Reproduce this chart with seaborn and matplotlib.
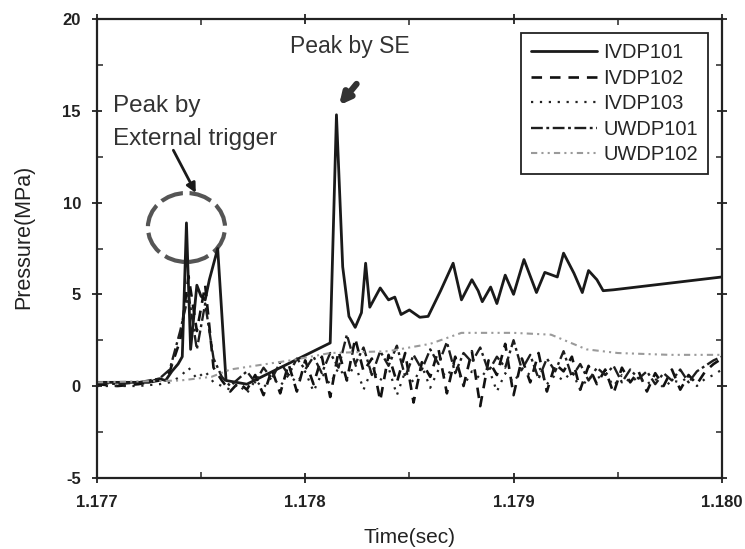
import numpy as np
import pandas as pd
import seaborn as sns
import matplotlib
matplotlib.use("Agg")
from matplotlib import pyplot as plt
from matplotlib.patches import Ellipse

# series names (legend order)
names = ["IVDP101", "IVDP102", "IVDP103", "UWDP101", "UWDP102"]

# IVDP101 - main solid trace
t_101 = [1.17700, 1.17725, 1.17730, 1.17733, 1.17736, 1.17739, 1.17741, 1.17743,
         1.17745, 1.17748, 1.17750, 1.17752, 1.17754, 1.17758, 1.17762, 1.17767,
         1.17772, 1.17812, 1.17815, 1.17818, 1.17821, 1.17824, 1.17827, 1.17829,
         1.17831, 1.17836, 1.17840, 1.17843, 1.17846, 1.17850, 1.17855, 1.17859,
         1.17865, 1.17871, 1.17875, 1.17880, 1.17883, 1.17885, 1.17889, 1.17892,
         1.17896, 1.17900, 1.17905, 1.17911, 1.17915, 1.17921, 1.17924, 1.17929,
         1.17933, 1.17936, 1.17940, 1.17943, 1.17948, 1.18000]
p_101 = [0.2, 0.2, 0.4, 0.3, 0.8, 1.2, 1.6, 8.9,
         2.0, 5.5, 4.9, 4.7, 5.8, 7.5, 0.3, 0.2,
         0.1, 2.35, 14.8, 6.5, 3.8, 3.2, 4.0, 6.7,
         4.3, 5.35, 4.7, 4.85, 3.9, 4.15, 3.75, 3.8,
         5.2, 6.7, 4.7, 5.8, 5.2, 4.6, 5.4, 4.5,
         6.05, 5.0, 6.9, 5.1, 6.2, 5.95, 7.25, 6.15,
         5.1, 6.3, 5.8, 5.2, 5.25, 5.95]

# shared sample times for the noisy low traces
t_early = [1.17700, 1.17710, 1.17720, 1.17730, 1.17735, 1.17740, 1.17744, 1.17748,
           1.17752, 1.17756]
t_noise = [1.17760, 1.17764, 1.17768, 1.17772, 1.17776, 1.17780, 1.17784, 1.17788,
           1.17792, 1.17796, 1.17800, 1.17804, 1.17808, 1.17812, 1.17816, 1.17820,
           1.17824, 1.17828, 1.17832, 1.17836, 1.17840, 1.17844, 1.17848, 1.17852,
           1.17856, 1.17860, 1.17864, 1.17868, 1.17872, 1.17876, 1.17880, 1.17884,
           1.17888, 1.17892, 1.17896, 1.17900, 1.17904, 1.17908, 1.17912, 1.17916,
           1.17920, 1.17924, 1.17928, 1.17932, 1.17936, 1.17940, 1.17944, 1.17948,
           1.17952, 1.17956, 1.17960, 1.17964, 1.17968, 1.17972, 1.17976, 1.17980,
           1.17984, 1.17988, 1.17992, 1.17996, 1.18000]

p_102 = [0.1, 0.0, 0.1, 0.3, 0.8, 2.5, 6.0, 3.0, 5.5, 1.0,
         0.3, -0.3, 0.2, -0.2, 0.6, -0.5, 0.9, -0.4, 1.2, -0.3,
         1.4, 0.1, 1.6, -0.6, 1.9, 0.3, 2.6, 0.8, 1.5, -0.8,
         1.7, 0.2, 1.8, -0.9, 1.3, 0.5, 2.0, -0.4, 1.6, 0.0,
         1.9, -1.1, 1.4, 0.6, 2.3, -0.5, 1.5, 0.2, 1.8, -0.3,
         1.2, 0.8, 1.6, -0.2, 1.1, 0.1, 0.9, -0.4, 1.0, 0.2,
         0.8, -0.3, 0.7, 0.0, 0.9, -0.2, 0.6, 0.1, 0.8, 1.2, 1.5]

p_103 = [0.0, 0.0, 0.0, 0.1, 0.2, 0.5, 1.0, 0.4, 0.8, 0.2,
         0.0, -0.2, 0.1, -0.4, 0.3, -0.1, 0.5, 0.0, 0.6, 0.2,
         0.8, -0.3, 0.7, 0.1, 1.0, 0.4, 1.2, -0.2, 0.9, 0.3,
         1.0, -0.5, 0.8, 0.2, 1.1, -0.1, 0.9, 0.5, 1.3, 0.0,
         0.8, 0.4, 1.0, -0.3, 0.7, 0.2, 0.9, 0.6, 1.1, 0.1,
         0.6, 0.3, 0.8, -0.2, 0.5, 0.4, 0.7, 0.0, 0.6, 0.2,
         0.5, 0.1, 0.4, -0.1, 0.3, 0.2, 0.5, 0.0, 0.4, 0.6, 0.9]

p_u101 = [0.2, 0.1, 0.2, 0.4, 0.9, 3.0, 5.0, 2.0, 4.5, 1.5,
          0.5, 0.0, 0.4, 0.8, 0.2, 1.0, 0.4, 1.3, 0.6, 1.5,
          0.9, 1.6, 0.7, 1.8, 1.0, 2.8, 1.2, 2.1, 0.6, 1.9,
          1.1, 2.2, 0.5, 1.7, 0.9, 2.0, 1.2, 2.4, 0.7, 1.8,
          1.3, 2.1, 0.8, 1.6, 1.0, 2.5, 0.9, 1.7, 0.4, 1.5,
          0.8, 1.9, 0.5, 1.2, 0.3, 1.0, 0.6, 1.1, 0.2, 0.9,
          0.4, 0.8, 0.1, 0.7, 0.3, 0.9, 0.2, 0.8, 1.1, 1.4, 1.6]

# UWDP102 - smooth light grey trace
t_u102 = [1.17700, 1.17740, 1.17755, 1.17764, 1.17793, 1.17812, 1.17840, 1.17860,
          1.17875, 1.17900, 1.17918, 1.17935, 1.17950, 1.17975, 1.18000]
p_u102 = [0.2, 0.3, 0.5, 0.9, 1.4, 1.8, 1.9, 2.3,
          2.9, 2.9, 2.8, 2.0, 1.8, 1.7, 1.7]

x_ticks = [1.177, 1.178, 1.179, 1.180]
x_ticklabels = ["1.177", "1.178", "1.179", "1.180"]
y_ticks = [-5, 0, 5, 10, 15, 20]
y_ticklabels = ["-5", "0", "5", "10", "15", "20"]

t_low = t_early + t_noise
df = pd.concat([
    pd.DataFrame({"t": t_101, "P": p_101, "series": "IVDP101"}),
    pd.DataFrame({"t": t_low, "P": p_102, "series": "IVDP102"}),
    pd.DataFrame({"t": t_low, "P": p_103, "series": "IVDP103"}),
    pd.DataFrame({"t": t_low, "P": p_u101, "series": "UWDP101"}),
    pd.DataFrame({"t": t_u102, "P": p_u102, "series": "UWDP102"}),
], ignore_index=True)

sns.set_style("ticks")
plt.rcParams["font.family"] = ["Liberation Sans", "DejaVu Sans"]

palette = {"IVDP101": "#1a1a1a", "IVDP102": "#111111", "IVDP103": "#222222",
           "UWDP101": "#1e1e1e", "UWDP102": "#9a9a9a"}
dash_map = {"IVDP101": "", "IVDP102": (4, 3), "IVDP103": (1, 3),
            "UWDP101": (5, 1.5, 1.2, 1.5), "UWDP102": (3, 2, 1, 2, 1, 2)}
size_map = {"IVDP101": 2.0, "IVDP102": 1.9, "IVDP103": 1.6,
            "UWDP101": 1.7, "UWDP102": 1.5}

fig, ax = plt.subplots(figsize=(7.45, 5.49), dpi=100)
fig.subplots_adjust(left=0.130, right=0.969, bottom=0.130, top=0.9645)

sns.lineplot(data=df, x="t", y="P", hue="series", style="series", size="series",
             hue_order=names, style_order=names, size_order=names,
             palette=palette, dashes=dash_map, sizes=size_map,
             estimator=None, sort=False, ax=ax)

ax.set_xlim(1.177, 1.180)
ax.set_ylim(-5, 20)
ax.set_xticks(x_ticks)
ax.set_xticklabels(x_ticklabels)
ax.set_yticks(y_ticks)
ax.set_yticklabels(y_ticklabels)
ax.set_xticks([1.1775, 1.1785, 1.1795], minor=True)
ax.set_yticks([-2.5, 2.5, 7.5, 12.5, 17.5], minor=True)
ax.tick_params(which="major", direction="inout", length=7, width=1.3,
               top=True, right=True, labelsize=12, colors="#222222")
ax.tick_params(axis="x", which="major", pad=9)
ax.tick_params(axis="y", which="major", pad=8)
ax.tick_params(which="minor", direction="in", length=4, width=1.1,
               top=True, right=True)
for lab in ax.get_xticklabels() + ax.get_yticklabels():
    lab.set_fontweight("bold")
for sp in ax.spines.values():
    sp.set_visible(True)
    sp.set_linewidth(1.6)
    sp.set_color("#222222")

ax.set_xlabel("Time(sec)", fontsize=15, color="#222222", labelpad=13)
ax.set_ylabel("Pressure(MPa)", fontsize=15.5, color="#222222")
ax.yaxis.set_label_coords(-0.1, 0.525)

sns.move_legend(ax, loc="upper right", bbox_to_anchor=(0.978, 0.970), title=None,
                fontsize=14.5, frameon=True, fancybox=False, edgecolor="#222222",
                framealpha=1, handlelength=3.3, handletextpad=0.3,
                labelspacing=0.32, borderpad=0.5, borderaxespad=0)
ax.get_legend().get_frame().set_linewidth(1.3)

# dashed circle around the first peak
ax.add_patch(Ellipse((1.17743, 8.65), 0.00037, 3.76, fill=False,
                     edgecolor="#555555", linewidth=3.0,
                     linestyle=(0, (5.5, 1.6))))

ax.text(1.177077, 15.3, "Peak by", fontsize=17.5, color="#333333", va="center")
ax.text(1.177077, 13.5, "External trigger", fontsize=17.5, color="#333333", va="center")
ax.annotate("", xy=(1.177481, 10.4), xytext=(1.177361, 13.0),
            arrowprops=dict(arrowstyle="-|>", color="#1a1a1a", lw=2.0,
                            mutation_scale=14))

ax.text(1.177928, 18.55, "Peak by SE", fontsize=16.5, color="#333333", va="center")
ax.annotate("", xy=(1.178154, 15.2), xytext=(1.178255, 16.6),
            arrowprops=dict(arrowstyle="-|>", color="#333333", lw=4.5,
                            mutation_scale=16))

fig.savefig("out.png", dpi=100)
